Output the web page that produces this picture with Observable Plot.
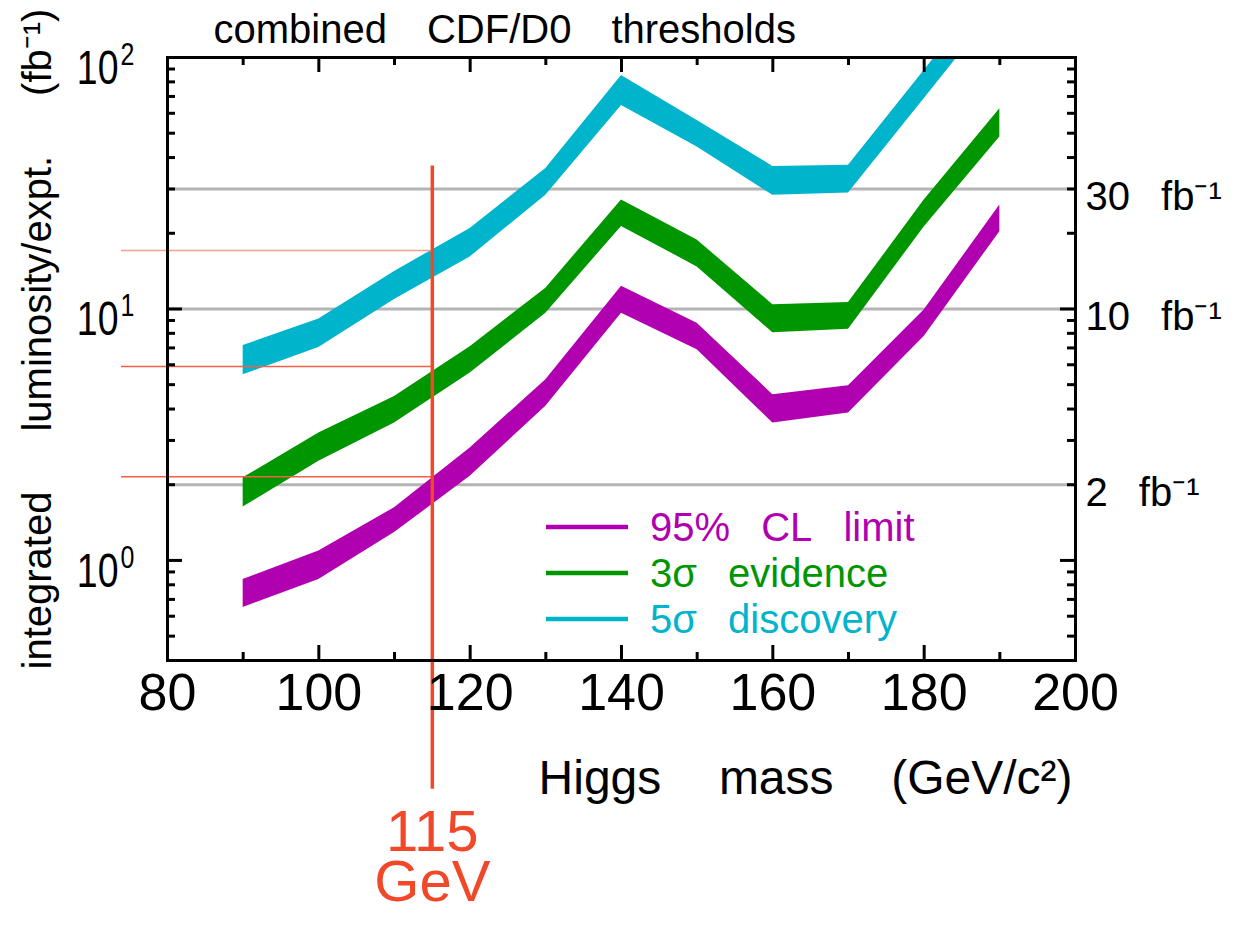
<!DOCTYPE html>
<html><head><meta charset="utf-8">
<script src="https://cdn.jsdelivr.net/npm/d3@7"></script>
<script src="https://cdn.jsdelivr.net/npm/@observablehq/plot@0.6"></script>
<style>
body{margin:0;background:#fff;}
#chart{position:relative;width:1241px;height:932px;}
#chart svg text{font-family:"Liberation Sans",Arial,sans-serif;}
</style></head><body><div id="chart"></div>
<script>
// Higgs mass points (GeV/c^2)
const masses = [90,100,110,120,130,140,150,160,170,180,190];
// integrated luminosity per experiment (fb^-1): upper and lower edge of each band
const limitHigh = [0.84,1.09,1.62,2.80,5.23,12.3,8.78,4.56,4.95,9.91,25.9];
const limitLow  = [0.65,0.84,1.29,2.16,4.10,9.61,6.88,3.52,3.86,7.77,20.3];
const evidenceHigh = [2.13,3.21,4.49,7.08,12.1,27.1,18.8,10.4,10.6,27.1,62.6];
const evidenceLow  = [1.63,2.48,3.52,5.56,9.61,21.3,14.7,8.05,8.30,21.2,48.3];
const discoveryHigh = [7.15,9.13,14.1,20.9,36.2,84.9,56.2,36.9,37.3,88.8,213];
const discoveryLow  = [5.47,7.02,10.9,16.1,28.3,64.5,44.1,28.3,28.9,68.6,163];
const seriesNames = ["95%\u2002 CL\u2002 limit","3σ\u2002 evidence","5σ\u2002 discovery"];
const seriesColors = ["#b000b0","#009600","#00b4cc"];
// axes
const xTicks = [80,100,120,140,160,180,200];
const xMinorTicks = [90,110,130,150,170,190];
const yDecades = [1,10,100];
const yExponents = ["0","1","2"];
const yMinorTicks = [0.5,0.6,0.7,0.8,0.9,2,3,4,5,6,7,8,9,20,30,40,50,60,70,80,90];
// luminosity reference lines
const lumiLines = [2,10,30];
// 115 GeV marker
const markerMass = 115;
const markerValues = [17.1,5.9,2.15];
const markerTop = 37, markerBottom = 0.123;

const W = 1241, H = 932, mT = 57, mB = 272, mL = 167, mR = 166;
const fW = W - mL - mR, fH = H - mT - mB;

const band = (hi, lo) => masses.map((m, i) => ({mass: m, hi: hi[i], lo: lo[i]}));
const bands = [band(limitHigh, limitLow), band(evidenceHigh, evidenceLow), band(discoveryHigh, discoveryLow)];

const chart = Plot.plot({
  width: W, height: H,
  marginTop: mT, marginBottom: mB, marginLeft: mL, marginRight: mR,
  x: {domain: [80, 200], axis: null},
  y: {type: "log", domain: [0.4, 100], axis: null},
  marks: [
    Plot.ruleY(lumiLines, {y: d => d, stroke: "#b4b4b4", strokeWidth: 3}),
    ...bands.map((b, k) => Plot.areaY(b, {x: "mass", y1: "lo", y2: "hi", fill: seriesColors[k], clip: true})),
    Plot.ruleY(markerValues, {y: d => d, x1: 80, x2: markerMass, insetLeft: -46, stroke: (d, i) => i === 0 ? "#f3a090" : "#f06048", strokeWidth: 1.5}),
    Plot.ruleX([markerMass], {x: d => d, y1: markerTop, y2: markerBottom, stroke: "#f04828", strokeWidth: 3.5}),
    // ticks (inward)
    Plot.ruleX(xTicks, {x: d => d, insetTop: fH - 15, strokeWidth: 3}),
    Plot.ruleX(xMinorTicks, {x: d => d, insetTop: fH - 8, strokeWidth: 3}),
    Plot.ruleX(xTicks, {x: d => d, insetBottom: fH - 15, strokeWidth: 3}),
    Plot.ruleX(xMinorTicks, {x: d => d, insetBottom: fH - 8, strokeWidth: 3}),
    Plot.ruleY(yDecades, {y: d => d, insetRight: fW - 15, strokeWidth: 3}),
    Plot.ruleY(yMinorTicks, {y: d => d, insetRight: fW - 8, strokeWidth: 3}),
    Plot.ruleY(yDecades, {y: d => d, insetLeft: fW - 15, strokeWidth: 3}),
    Plot.ruleY(yMinorTicks, {y: d => d, insetLeft: fW - 8, strokeWidth: 3}),
    Plot.frame({stroke: "black", strokeWidth: 3}),
    // tick labels
    Plot.text(xTicks, {x: d => d, text: d => String(d), frameAnchor: "bottom", lineAnchor: "middle", dy: 33, fontSize: 52, fill: "black"}),
    Plot.text(yDecades, {y: d => d, text: () => "10", frameAnchor: "left", lineAnchor: "middle", dx: -49, dy: 11, textAnchor: "end", fontSize: 48, fill: "black"}),
    Plot.text(yDecades, {y: d => d, text: (d, i) => yExponents[i], frameAnchor: "left", lineAnchor: "middle", dx: -47, dy: -3, textAnchor: "start", fontSize: 32, fill: "black"}),
    Plot.text(lumiLines, {y: d => d, text: d => `${d}\u2002 fb⁻¹`, frameAnchor: "right", lineAnchor: "middle", dx: 10, dy: 8, textAnchor: "start", fontSize: 40, fill: "black"}),
    // titles
    Plot.text(["combined\u2003CDF/D0\u2003thresholds"], {frameAnchor: "top-left", lineAnchor: "middle", dx: 46, dy: -27, textAnchor: "start", fontSize: 40, fill: "black"}),
    Plot.text(["Higgs\u2003\u2009mass\u2003\u2009(GeV/c²)"], {frameAnchor: "bottom-right", lineAnchor: "middle", dx: -3, dy: 118, textAnchor: "end", fontSize: 48, fill: "black"}),
    Plot.text(["integrated\u2003\u2002luminosity/expt.\u2003\u2002(fb⁻¹)"], {frameAnchor: "left", lineAnchor: "middle", textAnchor: "middle", dx: -129, dy: -20, rotate: -90, fontSize: 40, fill: "black"}),
    Plot.text(["115\nGeV"], {x: () => markerMass, frameAnchor: "bottom", lineAnchor: "top", dy: 155, lineHeight: 0.86, fontSize: 58, fill: "#f04828"})
  ]
});
document.getElementById("chart").appendChild(chart);

const svg = d3.select(chart);
// narrow the logarithmic tick labels like the original condensed font
const yLabelTexts = new Set(["10", ...yExponents]);
svg.selectAll("text").each(function() {
  if (!yLabelTexts.has(this.textContent)) return;
  const b = this.getBBox();
  const m = this.getCTM();
  if (m.e + b.x > mL) return; // only labels left of the frame
  const t = this.getAttribute("transform") || "";
  const x = +this.getAttribute("x") || 0, y = +this.getAttribute("y") || 0;
  this.setAttribute("transform", `${t} translate(${x},${y}) scale(0.78,1) translate(${-x},${-y})`);
});

// legend
const lg = svg.append("g");
seriesNames.forEach((name, i) => {
  const y = 527 + i * 46;
  lg.append("line").attr("x1", 546).attr("x2", 628).attr("y1", y).attr("y2", y)
    .attr("stroke", seriesColors[i]).attr("stroke-width", 4.5);
  lg.append("text").attr("x", 650).attr("y", y).attr("dy", "0.35em")
    .attr("text-anchor", "start")
    .attr("fill", seriesColors[i]).attr("font-size", 40).text(name);
});
</script></body></html>
